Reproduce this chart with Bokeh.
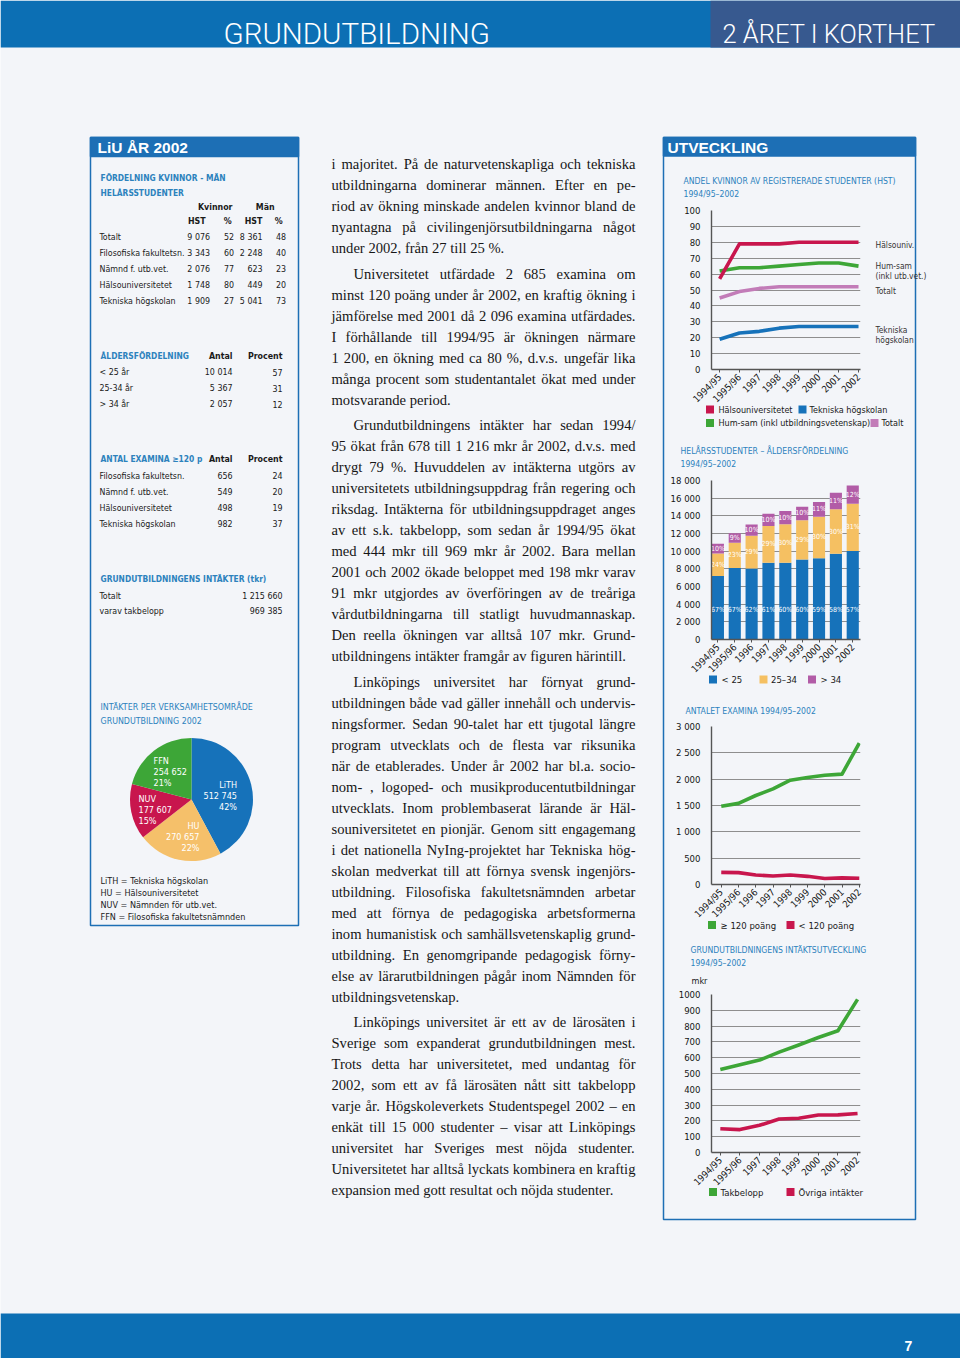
import math
from bokeh.plotting import figure
from bokeh.models import Range1d, GridBox, FixedTicker, ColumnDataSource
from bokeh.core.properties import value
from bokeh.embed import file_html
from bokeh.resources import INLINE

# ---------------- data ----------------
gender_rows = ["Totalt", "Filosofiska fakultetsn.", "Nämnd f. utb.vet.", "Hälsouniversitetet", "Tekniska högskolan"]
women_hst = ["9 076", "3 343", "2 076", "1 748", "1 909"]
women_pct = ["52", "60", "77", "80", "27"]
men_hst = ["8 361", "2 248", "623", "449", "5 041"]
men_pct = ["48", "40", "23", "20", "73"]

age_rows = ["< 25 år", "25-34 år", "> 34 år"]
age_count = ["10 014", "5 367", "2 057"]
age_pct = ["57", "31", "12"]

exam_rows = ["Filosofiska fakultetsn.", "Nämnd f. utb.vet.", "Hälsouniversitetet", "Tekniska högskolan"]
exam_count = ["656", "549", "498", "982"]
exam_pct = ["24", "20", "19", "37"]

income_rows = ["Totalt", "varav takbelopp"]
income_vals = ["1 215 660", "969 385"]

pie_names = ["LiTH", "HU", "NUV", "FFN"]
pie_values = [512745, 270657, 177607, 254652]
pie_value_text = ["512 745", "270 657", "177 607", "254 652"]
pie_pct = ["42%", "22%", "15%", "21%"]
pie_legend = ["LiTH = Tekniska högskolan", "HU = Hälsouniversitetet",
              "NUV = Nämnden för utb.vet.", "FFN =  Filosofiska fakultetsnämnden"]

years8 = ["1994/95", "1995/96", "1997", "1998", "1999", "2000", "2001", "2002"]
years9 = ["1994/95", "1995/96", "1996", "1997", "1998", "1999", "2000", "2001", "2002"]

share_halso = [57, 79, 79, 79, 80, 80, 80, 80]
share_humsam = [62, 64, 64, 65, 66, 67, 67, 65]
share_total = [45, 49, 51, 52, 52, 52, 52, 52]
share_tekn = [19, 23, 24, 26, 27, 27, 27, 27]
share_ticks = [0, 10, 20, 30, 40, 50, 60, 70, 80, 90, 100]
share_tick_labels = ["0", "10", "20", "30", "40", "50", "60", "70", "80", "90", "100"]

hst_u25 = [7200, 8100, 8050, 8700, 8700, 9050, 9200, 9700, 10014]
hst_25_34 = [2550, 2850, 3700, 4150, 4350, 4450, 4700, 5050, 5367]
hst_o34 = [1080, 1080, 1270, 1400, 1500, 1530, 1680, 1870, 2057]
hst_u25_pct = ["67%", "67%", "62%", "61%", "60%", "60%", "59%", "58%", "57%"]
hst_25_34_pct = ["24%", "23%", "29%", "29%", "30%", "29%", "30%", "30%", "31%"]
hst_o34_pct = ["10%", "9%", "10%", "10%", "10%", "10%", "11%", "11%", "12%"]
hst_ticks = [0, 2000, 4000, 6000, 8000, 10000, 12000, 14000, 16000, 18000]
hst_tick_labels = ["0", "2 000", "4 000", "6 000", "8 000", "10 000", "12 000", "14 000", "16 000", "18 000"]

exam_ge120 = [1485, 1540, 1690, 1815, 1980, 2030, 2075, 2096, 2685]
exam_lt120 = [230, 225, 180, 160, 180, 155, 115, 125, 120]
exam_ticks = [0, 500, 1000, 1500, 2000, 2500, 3000]
exam_tick_labels = ["0", "500", "1 000", "1 500", "2 000", "2 500", "3 000"]

inc_tak = [525, 555, 585, 635, 680, 728, 771, 969]
inc_ovr = [150, 145, 172, 212, 217, 237, 238, 247]
inc_ticks = [0, 100, 200, 300, 400, 500, 600, 700, 800, 900, 1000]
inc_tick_labels = ["0", "100", "200", "300", "400", "500", "600", "700", "800", "900", "1000"]

body_paragraphs = [
    [
        "i majoritet. På de naturvetenskapliga och tekniska",
        "utbildningarna dominerar männen. Efter en pe-",
        "riod av ökning minskade andelen kvinnor bland de",
        "nyantagna på civilingenjörsutbildningarna något",
        "under 2002, från 27 till 25 %.",
    ],
    [
        "Universitetet utfärdade 2 685 examina om",
        "minst 120 poäng under år 2002, en kraftig ökning i",
        "jämförelse med 2001 då 2 096 examina utfärdades.",
        "I förhållande till 1994/95 är ökningen närmare",
        "1 200, en ökning med ca 80 %, d.v.s. ungefär lika",
        "många procent som studentantalet ökat med under",
        "motsvarande period.",
    ],
    [
        "Grundutbildningens intäkter har sedan 1994/",
        "95 ökat från 678 till 1 216 mkr år 2002, d.v.s. med",
        "drygt 79 %. Huvuddelen av intäkterna utgörs av",
        "universitetets utbildningsuppdrag från regering och",
        "riksdag. Intäkterna för utbildningsuppdraget anges",
        "av ett s.k. takbelopp, som sedan år 1994/95 ökat",
        "med 444 mkr till 969 mkr år 2002. Bara mellan",
        "2001 och 2002 ökade beloppet med 198 mkr varav",
        "91 mkr utgjordes av överföringen av de treåriga",
        "vårdutbildningarna till statligt huvudmannaskap.",
        "Den reella ökningen var alltså 107 mkr. Grund-",
        "utbildningens intäkter framgår av figuren härintill.",
    ],
    [
        "Linköpings universitet har förnyat grund-",
        "utbildningen både vad gäller innehåll och undervis-",
        "ningsformer. Sedan 90-talet har ett tjugotal längre",
        "program utvecklats och de flesta var riksunika",
        "när de etablerades. Under år 2002 har bl.a. socio-",
        "nom- , logoped- och musikproducentutbildningar",
        "utvecklats. Inom problembaserat lärande är Häl-",
        "souniversitetet en pionjär. Genom sitt engagemang",
        "i det nationella NyIng-projektet har Tekniska hög-",
        "skolan medverkat till att förnya svensk ingenjörs-",
        "utbildning. Filosofiska fakultetsnämnden arbetar",
        "med att förnya de pedagogiska arbetsformerna",
        "inom humanistisk och samhällsvetenskaplig grund-",
        "utbildning. En genomgripande pedagogisk förny-",
        "else av lärarutbildningen pågår inom Nämnden för",
        "utbildningsvetenskap.",
    ],
    [
        "Linköpings universitet är ett av de lärosäten i",
        "Sverige som expanderat grundutbildningen mest.",
        "Trots detta har universitetet, med undantag för",
        "2002, som ett av få lärosäten nått sitt takbelopp",
        "varje år. Högskoleverkets Studentspegel 2002 – en",
        "enkät till 15 000 studenter – visar att Linköpings",
        "universitet har Sveriges mest nöjda studenter.",
        "Universitetet har alltså lyckats kombinera en kraftig",
        "expansion med gott resultat och nöjda studenter.",
    ],
]

# ---------------- style ----------------
NARROW = "DejaVu Sans Condensed, Liberation Sans"
SANS = "Liberation Sans"
LIGHT = "Roboto Light, Liberation Sans"
SERIF = "Liberation Serif"
PAGE_BG = "#f3f5f9"
HEAD_BLUE = "#0c6fb4"
PANEL_BLUE = "#1d6fb5"
TEAL = "#2c82bd"
INK = "#1a1a1a"
CRIMSON = "#c8164d"
GREEN = "#3da637"
BLUE = "#1672ba"
PINK = "#c27cb8"
ORANGE = "#f5c062"
PURPLE = "#b25ca7"
PIE_COLORS = [BLUE, "#f5c06a", CRIMSON, GREEN]


def text(fig, xs, ys, texts, size, color=INK, align="left", font=NARROW, style="normal"):
    n = len(texts)
    if not isinstance(xs, (list, tuple)):
        xs = [xs] * n
    if not isinstance(ys, (list, tuple)):
        ys = [ys] * n
    src = ColumnDataSource(dict(x=list(xs), y=list(ys), t=list(texts)))
    fig.text("x", "y", text="t", source=src, text_font=value(font), text_font_size=f"{size}px",
             text_color=color, text_align=align, text_baseline="middle", text_font_style=style)


def box(fig, l, r, t, b, fill=None, line=None, lw=1.0):
    fig.quad(left=[l], right=[r], top=[t], bottom=[b], fill_color=fill, line_color=line, line_width=lw)


def squares(fig, xs, ys, colors):
    fig.rect(x=xs, y=ys, width=8, height=8, fill_color=colors, line_color=None)


# ---------------- page canvas (data units = page pixels) ----------------
PW, PH = 960, 1358
page = figure(width=PW, height=PH, x_range=Range1d(0, PW), y_range=Range1d(PH, 0),
              toolbar_location=None, tools="", output_backend="svg", min_border=0,
              x_axis_type=None, y_axis_type=None, outline_line_color=None,
              background_fill_color=PAGE_BG, border_fill_color=PAGE_BG)
page.grid.visible = False

# header / footer
box(page, 0, PW, 0, 47, fill=HEAD_BLUE)
box(page, 710, PW, 0, 47, fill="#37598f")
text(page, 223, [33], ["GRUNDUTBILDNING"], 29.5, "white", font=LIGHT)
text(page, 722, [33], ["2 ÅRET I KORTHET"], 25.5, "white", font=LIGHT)
box(page, 0, PW, 1313, PH, fill=HEAD_BLUE)
text(page, 908, [1345], ["7"], 14, "white", align="center", font=SANS, style="bold")

# ---- left panel ----
box(page, 90, 298, 137, 925, line=PANEL_BLUE, lw=1.5)
box(page, 90, 298, 137, 156, fill=PANEL_BLUE, line=PANEL_BLUE, lw=1.5)
text(page, 97, [147], ["LiU ÅR 2002"], 15.5, "white", font=SANS, style="bold")

FS_T = 8.8
FS_H = 8.4
text(page, 100, [177, 192], ["FÖRDELNING KVINNOR - MÄN", "HELÅRSSTUDENTER"], FS_H, TEAL, style="bold")
text(page, [214.7, 264.7], [206.5, 206.5], ["Kvinnor", "Män"], FS_T, style="bold", align="center")
text(page, [196.3, 227.3, 253, 278.3], [220] * 4, ["HST", "%", "HST", "%"], FS_T, style="bold", align="center")
g_y = [236, 252, 268, 284, 300]
text(page, 99, g_y, gender_rows, FS_T)
text(page, 209.5, g_y, women_hst, FS_T, align="right")
text(page, 233.5, g_y, women_pct, FS_T, align="right")
text(page, 262, g_y, men_hst, FS_T, align="right")
text(page, 285.5, g_y, men_pct, FS_T, align="right")

text(page, 100, [355], ["ÅLDERSFÖRDELNING"], FS_H, TEAL, style="bold")
text(page, [232, 282], [355, 355], ["Antal", "Procent"], FS_T, style="bold", align="right")
a_y = [371.5, 387.5, 403.5]
text(page, 99, a_y, age_rows, FS_T)
text(page, 232, a_y, age_count, FS_T, align="right")
text(page, 282, a_y, age_pct, FS_T, align="right")

text(page, 100, [458.5], ["ANTAL EXAMINA  ≥120 p"], FS_H, TEAL, style="bold")
text(page, [232, 282], [458.5, 458.5], ["Antal", "Procent"], FS_T, style="bold", align="right")
e_y = [475, 491, 507, 523]
text(page, 99, e_y, exam_rows, FS_T)
text(page, 232, e_y, exam_count, FS_T, align="right")
text(page, 282, e_y, exam_pct, FS_T, align="right")

text(page, 100, [578.5], ["GRUNDUTBILDNINGENS INTÄKTER (tkr)"], FS_H, TEAL, style="bold")
i_y = [595, 610.5]
text(page, 99, i_y, income_rows, FS_T)
text(page, 282, i_y, income_vals, FS_T, align="right")

text(page, 100, [706.5, 720], ["INTÄKTER PER VERKSAMHETSOMRÅDE", "GRUNDUTBILDNING 2002"], 8.8, TEAL)
text(page, 100, [880, 892, 904, 916], pie_legend, 9.0)

# ---- middle body text (justified word by word) ----
TW = {}


def setw(chars, w):
    for ch in chars:
        TW[ch] = w


setw("bdghknopquvxyö0123456789–", 500)
setw("aceäåéz", 444)
setw("fr-()", 333)
setw("ijlt/:;", 278)
setw("s", 389)
setw("m", 778)
setw("w", 722)
setw(".,' ", 250)
setw("%", 833)
setw("ADGHKNOQUVXYÅÄÖ", 722)
setw("BCR", 667)
setw("ELTZ", 611)
setw("FPS", 556)
setw("I", 333)
setw("J", 389)
setw("M", 889)
setw("W", 944)

FS_B = 14.6
BODY_L, BODY_R = 331, 635


def tw(s):
    return sum(TW.get(ch, 500) for ch in s) * FS_B / 1000.0


para_top = [163, 273, 424, 681, 1021]
wx, wy, wt = [], [], []
for pi_, (y0, lines) in enumerate(zip(para_top, body_paragraphs)):
    for k, line in enumerate(lines):
        y = y0 + 21 * k
        x0 = BODY_L + (22 if (pi_ > 0 and k == 0) else 0)
        words = line.split(" ")
        widths = [tw(w) for w in words]
        if k == len(lines) - 1 or len(words) == 1:
            gap = tw(" ")
        else:
            gap = max(2.0, (BODY_R - x0 - sum(widths)) / (len(words) - 1))
        x = x0
        for w, ww in zip(words, widths):
            wx.append(x)
            wy.append(y)
            wt.append(w)
            x += ww + gap
text(page, wx, wy, wt, FS_B, "#161616", font=SERIF)

# ---- right panel ----
box(page, 663, 915, 137, 1219, line=PANEL_BLUE, lw=1.5)
box(page, 663, 915, 137, 155.5, fill=PANEL_BLUE, line=PANEL_BLUE, lw=1.5)
text(page, 667, [146.5], ["UTVECKLING"], 15.5, "white", font=SANS, style="bold")

FS_TI = 8.6
FS_L = 9.0
# chart 1 texts
text(page, 683, [180, 193], ["ANDEL KVINNOR AV REGISTRERADE STUDENTER (HST)", "1994/95–2002"], FS_TI, TEAL)
text(page, 875, [244, 265, 275, 290, 329, 339],
     ["Hälsouniv.", "Hum-sam", "(inkl utb.vet.)", "Totalt", "Tekniska", "högskolan"], 8.4, "#333333")
squares(page, [709.5, 802, 709.5, 874], [409, 409, 422.5, 422.5], [CRIMSON, BLUE, GREEN, PINK])
text(page, [718, 809, 718, 881], [409, 409, 422.5, 422.5],
     ["Hälsouniversitetet", "Tekniska högskolan", "Hum-sam (inkl utbildningsvetenskap)", "Totalt"], FS_L)

# chart 2 texts
text(page, 680, [450, 463], ["HELÅRSSTUDENTER – ÅLDERSFÖRDELNING", "1994/95–2002"], FS_TI, TEAL)
squares(page, [712.5, 763, 811.5], [679, 679, 679], [BLUE, ORANGE, PURPLE])
text(page, [721, 770.5, 820], [679, 679, 679], ["< 25", "25–34", "> 34"], FS_L + 0.5)

# chart 3 texts
text(page, 685, [710], ["ANTALET EXAMINA 1994/95–2002"], FS_TI, TEAL)
squares(page, [711.5, 790], [924.5, 924.5], [GREEN, CRIMSON])
text(page, [720, 798], [924.5, 924.5], ["≥ 120 poäng", "< 120 poäng"], FS_L + 0.5)

# chart 4 texts
text(page, 690, [949, 962], ["GRUNDUTBILDNINGENS INTÄKTSUTVECKLING", "1994/95–2002"], FS_TI, TEAL)
text(page, 691, [980], ["mkr"], 9)
squares(page, [712.5, 790], [1191.5, 1191.5], [GREEN, CRIMSON])
text(page, [720, 798], [1191.5, 1191.5], ["Takbelopp", "Övriga intäkter"], FS_L + 0.5)


# ---------------- charts ----------------
def make_chart(w, h, borders, xr, yr, cats, yticks, ylabels):
    l, r, t, b = borders
    p = figure(width=w, height=h, x_range=Range1d(*xr), y_range=Range1d(*yr),
               toolbar_location=None, tools="", output_backend="svg",
               min_border_left=l, min_border_right=r, min_border_top=t, min_border_bottom=b,
               background_fill_color=None, border_fill_color=None, outline_line_color=None)
    p.xgrid.visible = False
    p.ygrid.grid_line_color = "#8e8e8e"
    p.ygrid.grid_line_width = 1
    p.xaxis.ticker = FixedTicker(ticks=list(range(len(cats))))
    p.xaxis.major_label_overrides = {i: c for i, c in enumerate(cats)}
    p.xaxis.major_label_orientation = math.pi / 4
    p.yaxis.ticker = FixedTicker(ticks=yticks)
    p.yaxis.major_label_overrides = {v: s for v, s in zip(yticks, ylabels)}
    for ax in (p.xaxis, p.yaxis):
        ax.axis_line_color = "#555555"
        ax.axis_line_width = 1.4
        ax.major_label_text_font = NARROW
        ax.major_label_text_color = "#151515"
        ax.minor_tick_line_color = None
    p.xaxis.major_label_text_font_size = "9.5px"
    p.yaxis.major_label_text_font_size = "9.5px"
    p.xaxis.major_tick_out = 3
    p.xaxis.major_tick_in = 0
    p.xaxis.major_tick_line_color = "#555555"
    p.xaxis.major_label_standoff = 3
    p.yaxis.major_tick_line_color = None
    p.yaxis.major_label_standoff = 5
    return p


x8 = list(range(len(years8)))
x9 = list(range(len(years9)))

# chart 1: share of women
c1 = make_chart(248, 211, (43, 53, 10, 40), (-0.41, 7.10), (0, 100), years8, share_ticks, share_tick_labels)
for ys, col in [(share_tekn, BLUE), (share_total, PINK), (share_humsam, GREEN), (share_halso, CRIMSON)]:
    c1.line(x8, ys, line_color=col, line_width=3.6, line_join="round")

# chart 2: stacked bars
c2 = make_chart(248, 211, (46, 46, 10, 40), (-0.38, 8.46), (0, 18000), years9, hst_ticks, hst_tick_labels)
src2 = ColumnDataSource(dict(x=x9, u=hst_u25, m=hst_25_34, o=hst_o34))
c2.vbar_stack(["u", "m", "o"], x="x", width=0.72, color=[BLUE, ORANGE, PURPLE], line_color=None, source=src2)
lab_u = [3300 for _ in hst_u25]
lab_m = [u + m / 2 for u, m in zip(hst_u25, hst_25_34)]
lab_o = [u + m + o / 2 for u, m, o in zip(hst_u25, hst_25_34, hst_o34)]
text(c2, x9, lab_u, hst_u25_pct, 7, "white", align="center")
text(c2, x9, lab_m, hst_25_34_pct, 7, "white", align="center")
text(c2, x9, lab_o, hst_o34_pct, 7, "white", align="center")

# chart 3: degrees
c3 = make_chart(248, 210, (43, 52, 10, 40), (-0.565, 8.07), (0, 3000), years9, exam_ticks, exam_tick_labels)
c3.line(x9, exam_ge120, line_color=GREEN, line_width=3.6, line_join="round")
c3.line(x9, exam_lt120, line_color=CRIMSON, line_width=3.6, line_join="round")

# chart 4: income
c4 = make_chart(248, 210, (45, 51, 10, 40), (-0.45, 7.15), (0, 1000), years8, inc_ticks, inc_tick_labels)
c4.line(x8, inc_tak, line_color=GREEN, line_width=3.6, line_join="round")
c4.line(x8, inc_ovr, line_color=CRIMSON, line_width=3.6, line_join="round")

# pie
pie = figure(width=130, height=130, x_range=Range1d(-65, 65), y_range=Range1d(-65, 65),
             toolbar_location=None, tools="", output_backend="svg", min_border=0,
             x_axis_type=None, y_axis_type=None, outline_line_color=None,
             background_fill_color=None, border_fill_color=None)
pie.grid.visible = False
tot = float(sum(pie_values))
cum = 0.0
st, en = [], []
for v in pie_values:
    a0 = math.pi / 2 - 2 * math.pi * cum / tot
    cum += v
    a1 = math.pi / 2 - 2 * math.pi * cum / tot
    st.append(a1)
    en.append(a0)
pie.wedge(x=0, y=0, radius=61.5, start_angle=st, end_angle=en, fill_color=PIE_COLORS, line_color=None)
lab_pos = {"LiTH": (45.5, [15, 4, -7], "right"), "HU": (8, [-26, -37, -48], "right"),
           "NUV": (-53, [1, -10, -21], "left"), "FFN": (-38, [39, 28, 17], "left")}
for name, vt, pc in zip(pie_names, pie_value_text, pie_pct):
    lx, lys, al = lab_pos[name]
    text(pie, lx, lys, [name, vt, pc], 9, "white", align=al)

# ---------------- overlay grid (page pixel coordinates) ----------------
items = [(page, 0, 0, PW, PH), (pie, 126, 734, 130, 130),
         (c1, 665, 200, 248, 211), (c2, 665, 470, 248, 211),
         (c3, 665, 716, 248, 210), (c4, 665, 984, 248, 210)]
xs = sorted(set([x for _, x, _, w, _ in items] + [x + w for _, x, _, w, _ in items]))
ys = sorted(set([y for _, _, y, _, h in items] + [y + h for _, _, y, _, h in items]))
cols = [f"{b - a}px" for a, b in zip(xs, xs[1:])]
rows = [f"{b - a}px" for a, b in zip(ys, ys[1:])]
children = []
for fig, x, y, w, h in items:
    r0, c0 = ys.index(y), xs.index(x)
    children.append((fig, r0, c0, ys.index(y + h) - r0, xs.index(x + w) - c0))
layout = GridBox(children=children, rows=rows, cols=cols, spacing=0)

open("out.html", "w").write(file_html(layout, INLINE))
